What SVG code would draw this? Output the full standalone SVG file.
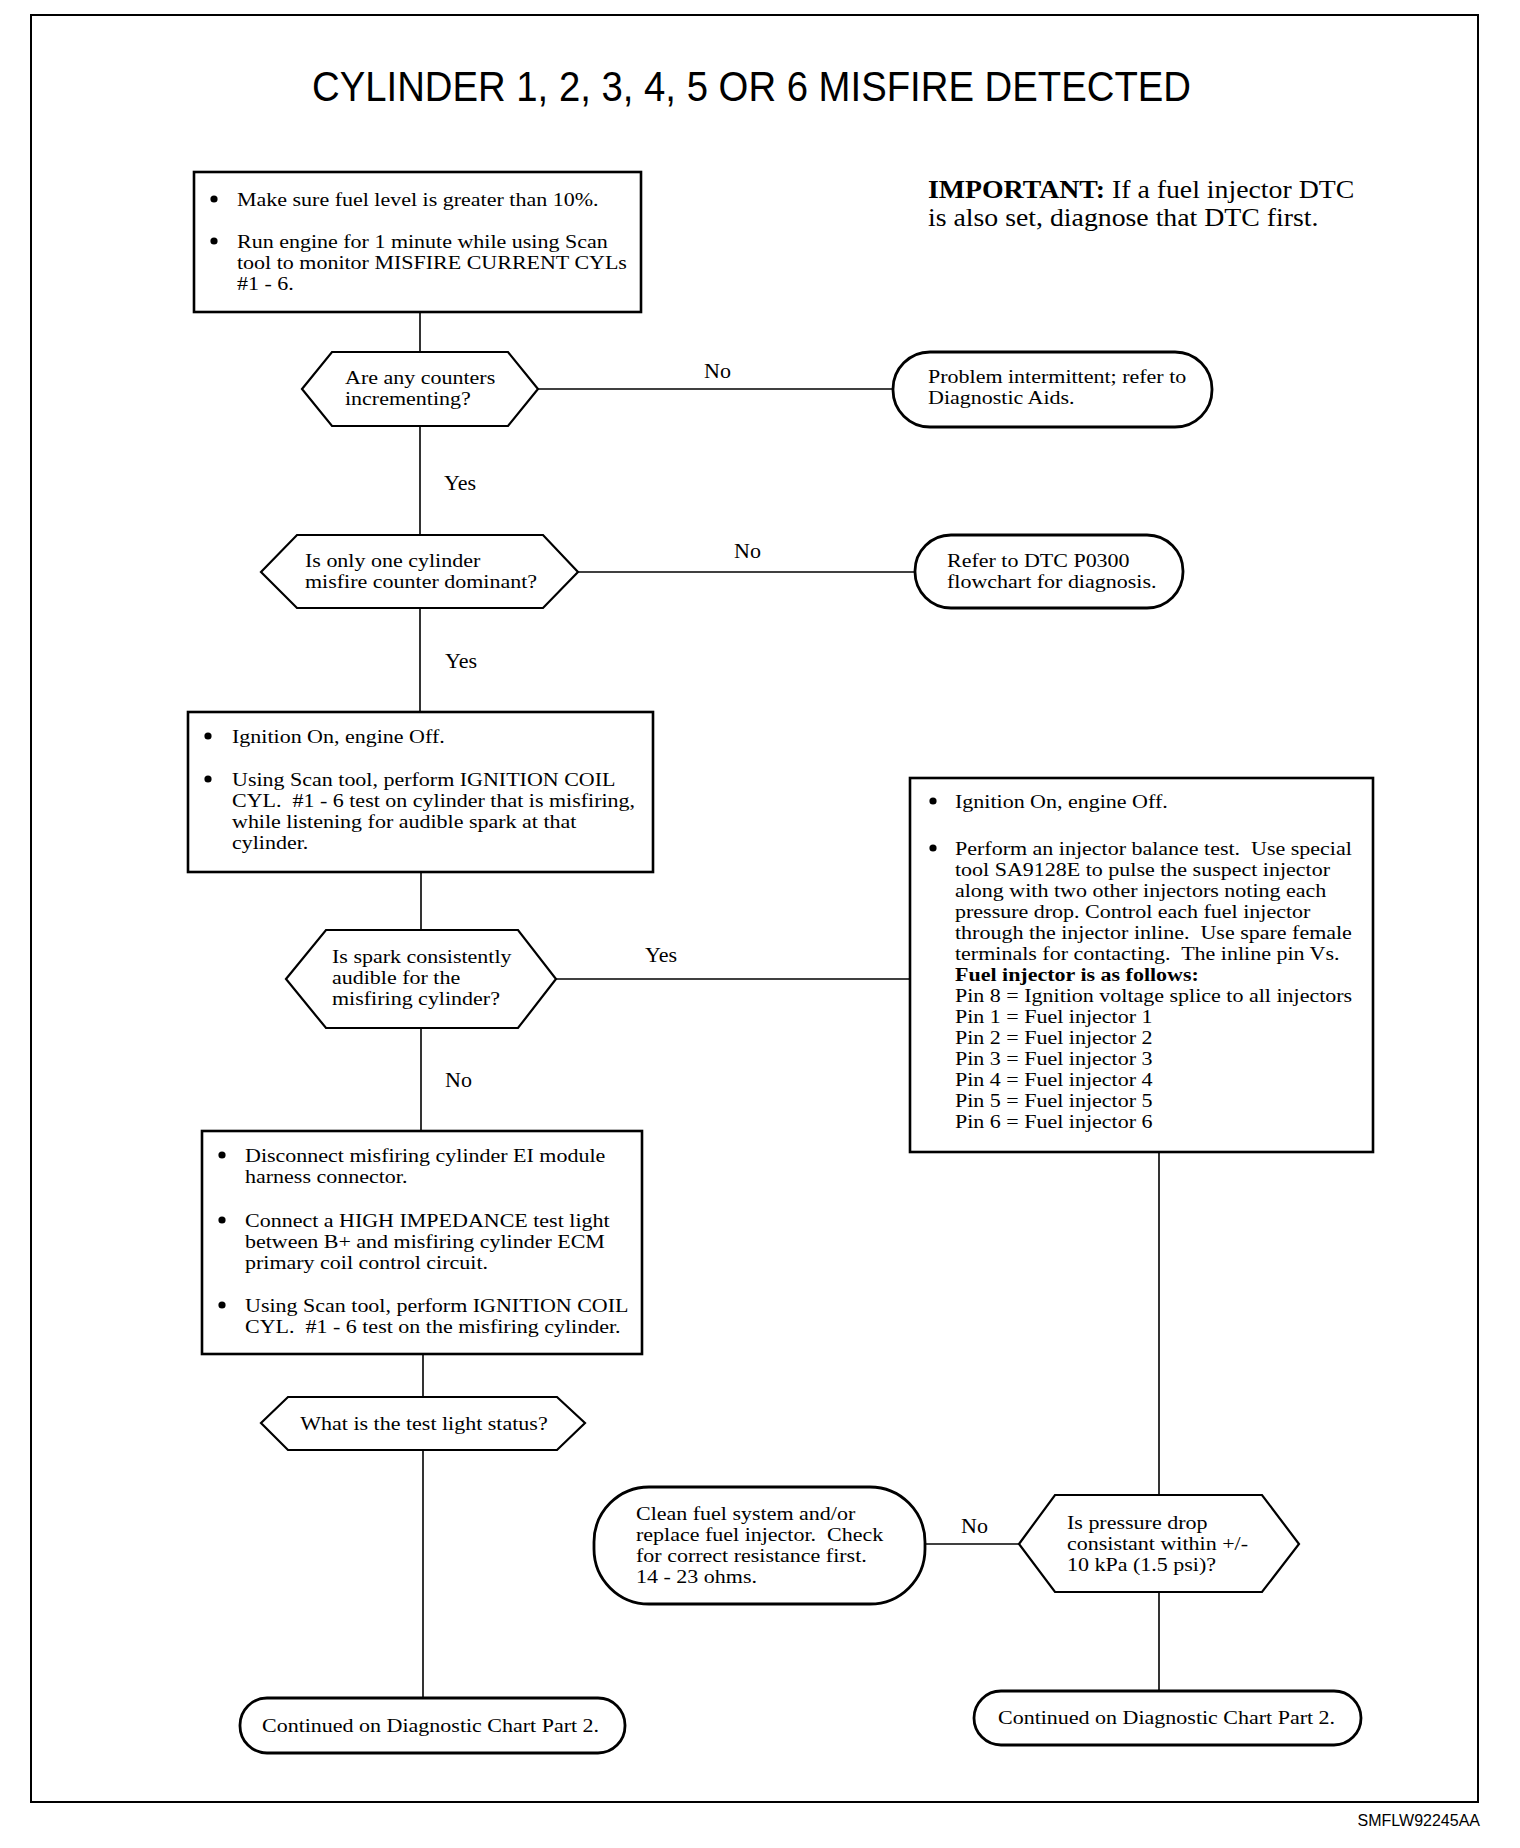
<svg xmlns="http://www.w3.org/2000/svg" width="1520" height="1848" viewBox="0 0 1520 1848">
<style>
.frame{fill:none;stroke:#000;stroke-width:2}
.box{fill:#fff;stroke:#000;stroke-width:2.6}
.hex{fill:#fff;stroke:#000;stroke-width:2.2}
.term{fill:#fff;stroke:#000;stroke-width:2.8}
.conn{fill:none;stroke:#000;stroke-width:1.6}
.t{font-family:"Liberation Serif","Times New Roman",serif;font-size:18.8px;fill:#000;white-space:pre}
.imp{font-family:"Liberation Serif","Times New Roman",serif;font-size:25px;fill:#000;white-space:pre}
.b{font-weight:bold}
.lbl{font-family:"Liberation Serif","Times New Roman",serif;font-size:22px;fill:#000}
.title{font-family:"Liberation Sans",Arial,sans-serif;font-size:43px;fill:#000}
.code{font-family:"Liberation Sans",Arial,sans-serif;font-size:16px;fill:#000}
.dot{fill:#000}
</style>
<rect width="1520" height="1848" fill="#fff"/>
<rect class="frame" x="31" y="15" width="1447" height="1787"/>
<text class="title" x="312" y="101" textLength="879" lengthAdjust="spacingAndGlyphs">CYLINDER 1, 2, 3, 4, 5 OR 6 MISFIRE DETECTED</text>
<g id="important" transform="translate(928 0) scale(1.112 1)">
<text class="imp"><tspan x="0" y="198"><tspan class="b">IMPORTANT:</tspan> If a fuel injector DTC</tspan><tspan x="0" y="226">is also set, diagnose that DTC first.</tspan></text>
</g>
<g id="connectors">
<polyline class="conn" points="420,312 420,352"/>
<polyline class="conn" points="538,389 893,389"/>
<polyline class="conn" points="420,426 420,535"/>
<polyline class="conn" points="578,572 915,572"/>
<polyline class="conn" points="420,608 420,712"/>
<polyline class="conn" points="421,872 421,930"/>
<polyline class="conn" points="556,979 910,979"/>
<polyline class="conn" points="421,1028 421,1131"/>
<polyline class="conn" points="423,1354 423,1397"/>
<polyline class="conn" points="423,1450 423,1698"/>
<polyline class="conn" points="1159,1152 1159,1495"/>
<polyline class="conn" points="1019,1544 925,1544"/>
<polyline class="conn" points="1159,1592 1159,1691"/>
<text class="lbl" x="704" y="378">No</text>
<text class="lbl" x="444" y="490">Yes</text>
<text class="lbl" x="734" y="558">No</text>
<text class="lbl" x="445" y="668">Yes</text>
<text class="lbl" x="645" y="962">Yes</text>
<text class="lbl" x="445" y="1087">No</text>
<text class="lbl" x="961" y="1533">No</text>
</g>
<g id="box1">
<rect class="box" x="194" y="172" width="447" height="140"/>
<circle class="dot" cx="214" cy="199" r="3.6"/>
<circle class="dot" cx="214" cy="241" r="3.6"/>
<g transform="translate(237 0) scale(1.17 1)"><text class="t"><tspan x="0" y="206">Make sure fuel level is greater than 10%.</tspan><tspan x="0" y="248">Run engine for 1 minute while using Scan</tspan><tspan x="0" y="269">tool to monitor MISFIRE CURRENT CYLs</tspan><tspan x="0" y="290">#1 - 6.</tspan></text></g>
</g>
<g id="q1">
<polygon class="hex" points="302,389 332,352 508,352 538,389 508,426 332,426"/>
<g transform="translate(345 0) scale(1.17 1)"><text class="t"><tspan x="0" y="384">Are any counters</tspan><tspan x="0" y="405">incrementing?</tspan></text></g>
</g>
<g id="end1">
<rect class="term" x="893" y="352" width="319" height="75" rx="37" ry="37"/>
<g transform="translate(928 0) scale(1.17 1)"><text class="t"><tspan x="0" y="383">Problem intermittent; refer to</tspan><tspan x="0" y="404">Diagnostic Aids.</tspan></text></g>
</g>
<g id="q2">
<polygon class="hex" points="261,572 297,535 543,535 578,572 543,608 297,608"/>
<g transform="translate(305 0) scale(1.17 1)"><text class="t"><tspan x="0" y="567">Is only one cylinder</tspan><tspan x="0" y="588">misfire counter dominant?</tspan></text></g>
</g>
<g id="end2">
<rect class="term" x="915" y="535" width="268" height="73" rx="36" ry="36"/>
<g transform="translate(947 0) scale(1.17 1)"><text class="t"><tspan x="0" y="567">Refer to DTC P0300</tspan><tspan x="0" y="588">flowchart for diagnosis.</tspan></text></g>
</g>
<g id="box2">
<rect class="box" x="188" y="712" width="465" height="160"/>
<circle class="dot" cx="208" cy="736" r="3.6"/>
<circle class="dot" cx="208" cy="779" r="3.6"/>
<g transform="translate(232 0) scale(1.17 1)"><text class="t"><tspan x="0" y="743">Ignition On, engine Off.</tspan><tspan x="0" y="786">Using Scan tool, perform IGNITION COIL</tspan><tspan x="0" y="807">CYL.  #1 - 6 test on cylinder that is misfiring,</tspan><tspan x="0" y="828">while listening for audible spark at that</tspan><tspan x="0" y="849">cylinder.</tspan></text></g>
</g>
<g id="q3">
<polygon class="hex" points="286,979 326,930 518,930 556,979 518,1028 326,1028"/>
<g transform="translate(332 0) scale(1.17 1)"><text class="t"><tspan x="0" y="963">Is spark consistently</tspan><tspan x="0" y="984">audible for the</tspan><tspan x="0" y="1005">misfiring cylinder?</tspan></text></g>
</g>
<g id="box3">
<rect class="box" x="910" y="778" width="463" height="374"/>
<circle class="dot" cx="933" cy="801" r="3.6"/>
<circle class="dot" cx="933" cy="848" r="3.6"/>
<g transform="translate(955 0) scale(1.17 1)"><text class="t"><tspan x="0" y="808">Ignition On, engine Off.</tspan><tspan x="0" y="855">Perform an injector balance test.  Use special</tspan><tspan x="0" y="876">tool SA9128E to pulse the suspect injector</tspan><tspan x="0" y="897">along with two other injectors noting each</tspan><tspan x="0" y="918">pressure drop. Control each fuel injector</tspan><tspan x="0" y="939">through the injector inline.  Use spare female</tspan><tspan x="0" y="960">terminals for contacting.  The inline pin Vs.</tspan><tspan class="b" x="0" y="981">Fuel injector is as follows:</tspan><tspan x="0" y="1002">Pin 8 = Ignition voltage splice to all injectors</tspan><tspan x="0" y="1023">Pin 1 = Fuel injector 1</tspan><tspan x="0" y="1044">Pin 2 = Fuel injector 2</tspan><tspan x="0" y="1065">Pin 3 = Fuel injector 3</tspan><tspan x="0" y="1086">Pin 4 = Fuel injector 4</tspan><tspan x="0" y="1107">Pin 5 = Fuel injector 5</tspan><tspan x="0" y="1128">Pin 6 = Fuel injector 6</tspan></text></g>
</g>
<g id="box4">
<rect class="box" x="202" y="1131" width="440" height="223"/>
<circle class="dot" cx="222" cy="1155" r="3.6"/>
<circle class="dot" cx="222" cy="1220" r="3.6"/>
<circle class="dot" cx="222" cy="1305" r="3.6"/>
<g transform="translate(245 0) scale(1.17 1)"><text class="t"><tspan x="0" y="1162">Disconnect misfiring cylinder EI module</tspan><tspan x="0" y="1183">harness connector.</tspan><tspan x="0" y="1227">Connect a HIGH IMPEDANCE test light</tspan><tspan x="0" y="1248">between B+ and misfiring cylinder ECM</tspan><tspan x="0" y="1269">primary coil control circuit.</tspan><tspan x="0" y="1312">Using Scan tool, perform IGNITION COIL</tspan><tspan x="0" y="1333">CYL.  #1 - 6 test on the misfiring cylinder.</tspan></text></g>
</g>
<g id="q4">
<polygon class="hex" points="261,1423 288,1397 557,1397 585,1423 557,1450 288,1450"/>
<g transform="translate(424 0) scale(1.17 1)"><text class="t" x="0" y="1430" text-anchor="middle">What is the test light status?</text></g>
</g>
<g id="end3">
<rect class="term" x="240" y="1698" width="385" height="55" rx="27" ry="27"/>
<g transform="translate(262 0) scale(1.17 1)"><text class="t" x="0" y="1732">Continued on Diagnostic Chart Part 2.</text></g>
</g>
<g id="q5">
<polygon class="hex" points="1019,1544 1055,1495 1262,1495 1299,1544 1262,1592 1055,1592"/>
<g transform="translate(1067 0) scale(1.17 1)"><text class="t"><tspan x="0" y="1529">Is pressure drop</tspan><tspan x="0" y="1550">consistant within +/-</tspan><tspan x="0" y="1571">10 kPa (1.5 psi)?</tspan></text></g>
</g>
<g id="end4">
<rect class="term" x="594" y="1487" width="331" height="117" rx="55" ry="55"/>
<g transform="translate(636 0) scale(1.17 1)"><text class="t"><tspan x="0" y="1520">Clean fuel system and/or</tspan><tspan x="0" y="1541">replace fuel injector.  Check</tspan><tspan x="0" y="1562">for correct resistance first.</tspan><tspan x="0" y="1583">14 - 23 ohms.</tspan></text></g>
</g>
<g id="end5">
<rect class="term" x="974" y="1691" width="387" height="54" rx="27" ry="27"/>
<g transform="translate(998 0) scale(1.17 1)"><text class="t" x="0" y="1724">Continued on Diagnostic Chart Part 2.</text></g>
</g>
<text class="code" x="1480" y="1826" text-anchor="end">SMFLW92245AA</text>
</svg>
